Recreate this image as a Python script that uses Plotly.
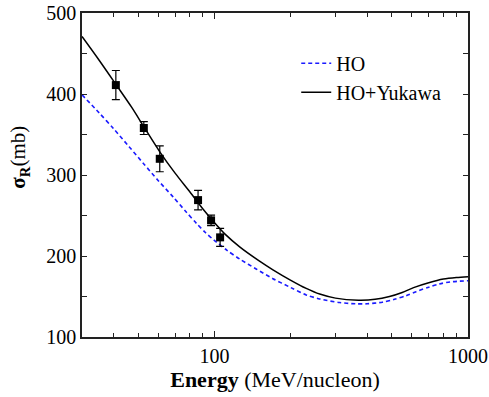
import plotly.graph_objects as go

# HO+Yukawa (solid) curve
yuk_E = [30, 35, 41, 47, 53, 61, 70, 80, 90, 100, 110, 126, 150, 170, 200, 230, 260, 300,
         370, 430, 490, 550, 610, 700, 800, 900, 1000]
yuk_sig = [471, 442, 411, 384, 358, 328, 302, 279, 258, 241, 227, 211, 194, 183, 170, 160,
           153, 148, 145.5, 146.5, 150, 155, 161, 167, 171.5, 173.5, 174.5]

# HO (dashed) curve
ho_E = [30, 35, 40, 46, 52.5, 60, 68.6, 77, 85, 92, 100, 112, 126, 146, 170, 200, 230, 260,
        311, 360, 400, 460, 513, 570, 624, 700, 771, 850, 1000]
ho_sig = [399, 377, 357, 335, 314, 293, 273, 255, 240, 229, 219, 207, 196, 184, 172, 161,
          152, 147, 142.5, 141, 141, 143, 146.5, 151, 156, 161.5, 165.5, 168, 169.5]

# Experimental points
exp_E = [40.8, 52.6, 60.8, 86.1, 96.9, 105.2]
exp_sig = [411, 358, 320, 269, 244, 223]
exp_err = [18, 8, 16, 12, 6.5, 11]

x_major = [100, 1000]
x_minor = [40, 50, 60, 70, 80, 90, 200, 300, 400, 500, 600, 700, 800, 900]

FONT = "Liberation Serif, Times New Roman, DejaVu Serif, serif"

fig = go.Figure()
fig.add_trace(go.Scatter(x=ho_E, y=ho_sig, mode="lines", name="HO",
                         line=dict(color="#1a1aff", width=1.6, dash="4px,3px", shape="spline", smoothing=0.8)))
fig.add_trace(go.Scatter(x=yuk_E, y=yuk_sig, mode="lines", name="HO+Yukawa",
                         line=dict(color="black", width=1.5, shape="spline", smoothing=0.8)))
fig.add_trace(go.Scatter(x=exp_E, y=exp_sig, mode="markers", showlegend=False,
                         marker=dict(symbol="square", size=8, color="black"),
                         error_y=dict(type="data", array=exp_err, visible=True,
                                      color="black", thickness=1.2, width=4)))

fig.update_layout(
    width=489, height=397,
    margin=dict(l=82, r=21, t=13, b=60, autoexpand=False),
    paper_bgcolor="white", plot_bgcolor="white",
    font=dict(family=FONT, size=20, color="black"),
    legend=dict(x=0.555, y=0.905, xanchor="left", yanchor="top",
                bgcolor="rgba(0,0,0,0)", font=dict(size=20, family=FONT),
                tracegroupgap=0, itemwidth=30),
    showlegend=True,
    annotations=[dict(text="<b>σ<sub>R</sub></b>(mb)", textangle=-90,
                      xref="paper", yref="paper", x=-0.162, y=0.555,
                      xanchor="center", yanchor="middle", showarrow=False,
                      font=dict(family=FONT, size=21))],
)
fig.update_xaxes(
    type="log", range=[1.4771, 3.0], automargin=False,
    tickvals=x_major, ticktext=["100", "1000"],
    ticks="inside", ticklen=6, tickwidth=1.2, tickcolor="#222",
    minor=dict(tickvals=x_minor, ticks="inside", ticklen=4, tickwidth=1.2, tickcolor="#222"),
    showline=True, linecolor="#222", linewidth=1.5, mirror="allticks",
    showgrid=False, zeroline=False,
    tickfont=dict(family=FONT, size=20),
    title=dict(text="<b>Energy</b> (MeV/nucleon)", font=dict(family=FONT, size=22), standoff=2),
)
fig.update_yaxes(
    range=[100, 500], tickvals=[100, 200, 300, 400, 500], automargin=False,
    ticks="inside", ticklen=5, tickwidth=1.2, tickcolor="#222",
    minor=dict(dtick=50, ticks="inside", ticklen=5, tickwidth=1.2, tickcolor="#222"),
    showline=True, linecolor="#222", linewidth=1.5, mirror="allticks",
    showgrid=False, zeroline=False,
    tickfont=dict(family=FONT, size=20),
)

fig.write_html("out.html")
